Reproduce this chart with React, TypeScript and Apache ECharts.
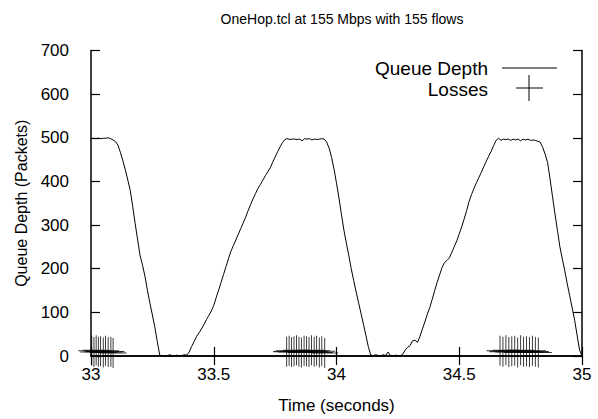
import React, { useEffect, useRef } from "react";
import * as echarts from "echarts";

const TITLE = "OneHop.tcl at 155 Mbps with 155 flows";
const X_NAME = "Time (seconds)";
const Y_NAME = "Queue Depth (Packets)";
const SERIES_NAMES = ["Queue Depth", "Losses"];

const queueTime = [
  33.0, 33.01, 33.02, 33.03, 33.04, 33.05, 33.06, 33.07, 33.08, 33.09,
  33.1, 33.11, 33.12, 33.13, 33.14, 33.15, 33.16, 33.17, 33.18, 33.19,
  33.2, 33.21, 33.22, 33.23, 33.24, 33.25, 33.26, 33.27, 33.28, 33.29,
  33.3, 33.31, 33.32, 33.33, 33.34, 33.35, 33.36, 33.37, 33.38, 33.39,
  33.4, 33.41, 33.42, 33.43, 33.44, 33.45, 33.46, 33.47, 33.48, 33.49,
  33.5, 33.51, 33.52, 33.53, 33.54, 33.55, 33.56, 33.57, 33.58, 33.59,
  33.6, 33.61, 33.62, 33.63, 33.64, 33.65, 33.66, 33.67, 33.68, 33.69,
  33.7, 33.71, 33.72, 33.73, 33.74, 33.75, 33.76, 33.77, 33.78, 33.79,
  33.8, 33.81, 33.82, 33.83, 33.84, 33.85, 33.86, 33.87, 33.88, 33.89,
  33.9, 33.91, 33.92, 33.93, 33.94, 33.95, 33.96, 33.97, 33.98, 33.99,
  34.0, 34.01, 34.02, 34.03, 34.04, 34.05, 34.06, 34.07, 34.08, 34.09,
  34.1, 34.11, 34.12, 34.13, 34.14, 34.15, 34.16, 34.17, 34.18, 34.19,
  34.2, 34.21, 34.22, 34.23, 34.24, 34.25, 34.26, 34.27, 34.28, 34.29,
  34.3, 34.31, 34.32, 34.33, 34.34, 34.35, 34.36, 34.37, 34.38, 34.39,
  34.4, 34.41, 34.42, 34.43, 34.44, 34.45, 34.46, 34.47, 34.48, 34.49,
  34.5, 34.51, 34.52, 34.53, 34.54, 34.55, 34.56, 34.57, 34.58, 34.59,
  34.6, 34.61, 34.62, 34.63, 34.64, 34.65, 34.66, 34.67, 34.68, 34.69,
  34.7, 34.71, 34.72, 34.73, 34.74, 34.75, 34.76, 34.77, 34.78, 34.79,
  34.8, 34.81, 34.82, 34.83, 34.84, 34.85, 34.86, 34.87, 34.88, 34.89,
  34.9, 34.91, 34.92, 34.93, 34.94, 34.95, 34.96, 34.97, 34.98, 34.99,
  35.0,
];

const queueDepth = [
  498, 499, 498, 499, 498, 499, 499, 500, 498, 495,
  491, 483, 466, 447, 426, 403, 379, 342, 303, 266,
  230, 208, 182, 150, 121, 94, 66, 33, 2, 0,
  1, 0, 3, 1, 0, 2, 0, 1, 3, 2,
  9, 22, 33, 45, 53, 62, 72, 83, 93, 103,
  116, 134, 151, 169, 187, 205, 223, 240, 253, 266,
  279, 292, 305, 318, 333, 347, 360, 372, 384, 393,
  403, 413, 422, 431, 444, 456, 468, 479, 489, 496,
  498, 496, 497, 497, 496, 497, 493, 498, 497, 498,
  495, 497, 496, 497, 498, 497, 490, 476, 455, 428,
  396, 362, 325, 289, 259, 231, 200, 173, 147, 122,
  97, 72, 47, 20, 2, 1, 3, 1, 0, 3,
  1, 9, 1, 0, 2, 1, 1, 4, 14, 20,
  24, 35, 36, 31, 45, 62, 78, 96, 111, 130,
  150, 169, 186, 203, 214, 219, 225, 238, 251, 264,
  280, 296, 314, 333, 354, 370, 384, 397, 409, 421,
  434, 446, 458, 469, 482, 494, 499, 494, 497, 496,
  497, 494, 497, 495, 497, 493, 497, 495, 497, 494,
  495, 494, 492, 490, 478, 462, 443, 405, 365, 325,
  288, 250, 222, 195, 165, 138, 110, 82, 48, 14,
  0,
];

const lossTime = [
  33.003, 33.012, 33.021, 33.030, 33.039, 33.050, 33.059, 33.070, 33.081, 33.090,
  33.797, 33.807, 33.817, 33.827, 33.837, 33.847, 33.857, 33.868, 33.878, 33.888,
  33.898, 33.909, 33.919, 33.930, 33.940, 33.952,
  34.666, 34.678, 34.690, 34.702, 34.714, 34.726, 34.738, 34.750, 34.762, 34.774,
  34.786, 34.798, 34.810, 34.822,
];

const lossValue = [
  12, 9, 13, 10, 11, 8, 12, 9, 10, 7,
  10, 12, 9, 11, 13, 10, 8, 12, 11, 9,
  13, 10, 12, 8, 11, 7,
  12, 10, 13, 9, 11, 12, 8, 13, 10, 11,
  9, 12, 10, 8,
];

const X_MIN = 33;
const X_MAX = 35;
const X_STEP = 0.5;
const Y_MIN = 0;
const Y_MAX = 700;
const Y_STEP = 100;

const FONT = "'Liberation Sans', Arial, Helvetica, sans-serif";

export default function App() {
  const ref = useRef<HTMLDivElement>(null);

  useEffect(() => {
    if (!ref.current) return;
    const chart = echarts.init(ref.current, null, { renderer: "svg" });

    const axisLine = { show: true, lineStyle: { color: "#000", width: 1.5 } };
    const tick = { show: true, inside: true, length: 9, lineStyle: { color: "#000", width: 1.2 } };

    const option: any = {
      animation: false,
      backgroundColor: "#fff",
      textStyle: { fontFamily: FONT },
      title: {
        text: TITLE,
        left: 337,
        top: 7,
        textAlign: "center",
        textStyle: { fontFamily: FONT, fontSize: 14, fontWeight: "normal", color: "#000" },
      },
      grid: { left: 91, right: 16, top: 50.5, bottom: 59 },
      xAxis: [
        {
          type: "value",
          min: X_MIN,
          max: X_MAX,
          interval: X_STEP,
          position: "bottom",
          name: X_NAME,
          nameLocation: "middle",
          nameGap: 41,
          nameTextStyle: { fontFamily: FONT, fontSize: 17, color: "#000" },
          axisLine,
          axisTick: tick,
          axisLabel: { fontFamily: FONT, fontSize: 17, color: "#000", margin: 10 },
          splitLine: { show: false },
        },
        {
          type: "value",
          min: X_MIN,
          max: X_MAX,
          interval: X_STEP,
          position: "top",
          axisLine,
          axisTick: tick,
          axisLabel: { show: false },
          splitLine: { show: false },
        },
      ],
      yAxis: [
        {
          type: "value",
          min: Y_MIN,
          max: Y_MAX,
          interval: Y_STEP,
          position: "left",
          name: Y_NAME,
          nameLocation: "middle",
          nameGap: 62,
          nameRotate: 90,
          nameTextStyle: { fontFamily: FONT, fontSize: 16, color: "#000" },
          axisLine,
          axisTick: tick,
          axisLabel: { fontFamily: FONT, fontSize: 17, color: "#000", margin: 22 },
          splitLine: { show: false },
        },
        {
          type: "value",
          min: Y_MIN,
          max: Y_MAX,
          interval: Y_STEP,
          position: "right",
          axisLine,
          axisTick: tick,
          axisLabel: { show: false },
          splitLine: { show: false },
        },
      ],
      series: [
        {
          name: SERIES_NAMES[0],
          type: "line",
          xAxisIndex: 0,
          yAxisIndex: 0,
          showSymbol: false,
          symbol: "none",
          lineStyle: { color: "#000", width: 1 },
          data: queueTime.map((t, i) => [t, queueDepth[i]]),
          z: 3,
        },
        {
          name: SERIES_NAMES[1],
          type: "scatter",
          xAxisIndex: 0,
          yAxisIndex: 0,
          clip: false,
          symbol: "path://M0,-1L0,1M-1,0L1,0",
          symbolSize: [27, 30],
          itemStyle: { color: "none", borderColor: "#000", borderWidth: 1 },
          data: lossTime.map((t, i) => [t, lossValue[i]]),
          z: 2,
        },
      ],
      graphic: [
        {
          type: "text",
          x: 488,
          y: 68,
          style: {
            text: SERIES_NAMES[0],
            fill: "#000",
            font: `19px ${FONT}`,
            textAlign: "right",
            textVerticalAlign: "middle",
          },
        },
        {
          type: "line",
          shape: { x1: 502, y1: 68, x2: 557, y2: 68 },
          style: { stroke: "#000", lineWidth: 1 },
        },
        {
          type: "text",
          x: 488,
          y: 89,
          style: {
            text: SERIES_NAMES[1],
            fill: "#000",
            font: `19px ${FONT}`,
            textAlign: "right",
            textVerticalAlign: "middle",
          },
        },
        {
          type: "line",
          shape: { x1: 516, y1: 88, x2: 543, y2: 88 },
          style: { stroke: "#000", lineWidth: 1 },
        },
        {
          type: "line",
          shape: { x1: 529, y1: 75, x2: 529, y2: 101 },
          style: { stroke: "#000", lineWidth: 1 },
        },
      ],
    };

    chart.setOption(option);
    return () => chart.dispose();
  }, []);

  return (
    <div
      ref={ref}
      style={{ position: "absolute", left: 0, top: 0, width: 598, height: 419, background: "#fff" }}
    />
  );
}
